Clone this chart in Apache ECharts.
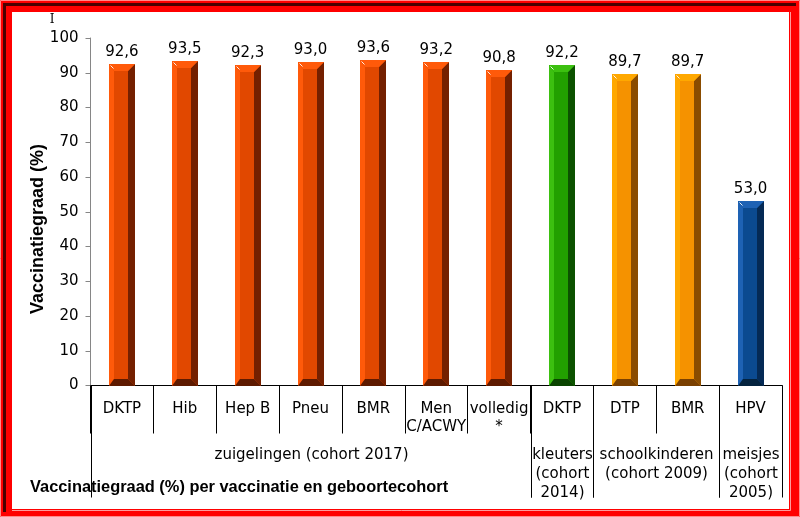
<!DOCTYPE html>
<html>
<head>
<meta charset="utf-8">
<script src="https://cdn.jsdelivr.net/npm/echarts@6/dist/echarts.min.js"></script>
<style>html,body{margin:0;padding:0;background:#fff}#c{width:800px;height:517px}</style>
</head>
<body>
<div id="c"></div>
<script>
// ---- data ----
const categories = ['DKTP', 'Hib', 'Hep B', 'Pneu', 'BMR', 'Men\nC/ACWY', 'volledig\n*', 'DKTP', 'DTP', 'BMR', 'HPV'];
const values = [92.6, 93.5, 92.3, 93.0, 93.6, 93.2, 90.8, 92.2, 89.7, 89.7, 53.0];
const barColorGroup = [0, 0, 0, 0, 0, 0, 0, 1, 2, 2, 3];
const groupLabels = ['zuigelingen (cohort 2017)', 'kleuters\n(cohort\n2014)', 'schoolkinderen\n(cohort 2009)', 'meisjes\n(cohort\n2005)'];
const groupSpans = [7, 1, 2, 1];
const yMin = 0, yMax = 100, yStep = 10;
const yTitle = 'Vaccinatiegraad (%)';
const footTitle = 'Vaccinatiegraad (%) per vaccinatie en geboortecohort';

// ---- styles ----
const palettes = [
  { light: '#ff5a0a', mid: '#e14800', dark: '#742000', bottom: '#5e1a00' },
  { light: '#3cc010', mid: '#22a000', dark: '#0c5200', bottom: '#0a4400' },
  { light: '#ffa800', mid: '#f59200', dark: '#8a4c00', bottom: '#7a4000' },
  { light: '#1e62b4', mid: '#0b4a90', dark: '#052a55', bottom: '#04233f' }
];
const FONT = 'DejaVu Sans';

const groupData = [];
let start = 0;
groupSpans.forEach((s, i) => { groupData.push([start, start + s - 1]); start += s; });

const chart = echarts.init(document.getElementById('c'), null, { renderer: 'canvas' });

function fmt(v) { return v.toFixed(1).replace('.', ','); }

const option = {
  animation: false,
  backgroundColor: 'transparent',
  graphic: [
    { type: 'rect', z: -10, shape: { x: 0, y: 0, width: 800, height: 517 }, style: { fill: '#ff0000' } },
    { type: 'rect', z: -9, shape: { x: 0.5, y: 0.5, width: 799, height: 516 }, style: { fill: null, stroke: '#ff8a8a', lineWidth: 1 } },
    { type: 'polyline', z: -9, shape: { points: [[4.5, 512], [4.5, 4.5], [796, 4.5]] }, style: { fill: null, stroke: '#4a0000', lineWidth: 3 } },
    { type: 'polyline', z: -9, shape: { points: [[12, 510.5], [790.5, 510.5], [790.5, 12]] }, style: { fill: null, stroke: '#ff9a9a', lineWidth: 1 } },
    { type: 'rect', z: -8, shape: { x: 12, y: 12, width: 777, height: 497 }, style: { fill: '#ffffff' } },
    { type: 'text', z: 10, x: 52, y: 20,
      style: { text: 'I', font: '12px "DejaVu Serif", serif', fill: '#000', align: 'center', verticalAlign: 'middle' } },
    { type: 'text', z: 10, x: 38, y: 229, rotation: Math.PI / 2,
      style: { text: yTitle, font: 'bold 18px "Liberation Sans", Arial, sans-serif', fill: '#000', align: 'center', verticalAlign: 'middle' } },
    { type: 'text', z: 10, x: 30, y: 487,
      style: { text: footTitle, font: 'bold 16.4px "Liberation Sans", Arial, sans-serif', fill: '#000', align: 'left', verticalAlign: 'middle' } }
  ],
  grid: { left: 90.5, right: 18, top: 38, bottom: 131.5, containLabel: false },
  xAxis: {
    type: 'category',
    data: categories,
    boundaryGap: true,
    axisLine: { show: true, lineStyle: { color: '#000', width: 1 } },
    axisTick: { show: true, length: 48, alignWithLabel: false, interval: 0, lineStyle: { color: '#000', width: 1 } },
    axisLabel: { interval: 0, margin: 15, color: '#000', fontFamily: FONT, fontSize: 15, lineHeight: 18, verticalAlign: 'top' },
    splitLine: { show: false }
  },
  yAxis: {
    type: 'value',
    min: yMin, max: yMax, interval: yStep,
    axisLine: { show: true, lineStyle: { color: '#868686', width: 1 } },
    axisTick: { show: true, length: 5, lineStyle: { color: '#868686' } },
    axisLabel: { margin: 12, color: '#000', fontFamily: FONT, fontSize: 15 },
    splitLine: { show: false }
  },
  series: [
    {
      type: 'custom',
      clip: false,
      data: values.map((v, i) => [i, v]),
      encode: { x: 0, y: 1 },
      renderItem: function (params, api) {
        const idx = api.value(0);
        const v = api.value(1);
        const top = api.coord([idx, v]);
        const base = api.coord([idx, 0]);
        const bw = api.size([1, 0])[0];
        const W = Math.round(bw * 0.41);
        const L = Math.round(top[0] - W / 2);
        const R = L + W;
        const T = Math.round(top[1]);
        const B = Math.round(base[1]);
        const p = palettes[barColorGroup[params.dataIndex]];
        const bl = 5, br = 7, bt = 7, bb = 7;
        return {
          type: 'group',
          children: [
            { type: 'rect', shape: { x: L, y: T, width: W, height: B - T }, style: { fill: p.mid } },
            { type: 'polygon', shape: { points: [[L, T], [L + bl, T + bt], [L + bl, B - bb], [L, B]] }, style: { fill: p.light } },
            { type: 'polygon', shape: { points: [[R, T], [R - br, T + bt], [R - br, B - bb], [R, B]] }, style: { fill: p.dark } },
            { type: 'polygon', shape: { points: [[L, T], [R, T], [R - br, T + bt], [L + bl, T + bt]] }, style: { fill: p.light } },
            { type: 'polygon', shape: { points: [[L, B], [R, B], [R - br, B - bb], [L + bl, B - bb]] }, style: { fill: p.bottom } },
            { type: 'line', shape: { x1: L + 1.5, y1: T + 1.5, x2: L + 4.5, y2: T + 4.5 }, style: { stroke: '#ffffff', lineWidth: 1, opacity: 0.9 } },
            { type: 'text', style: { text: fmt(v), x: top[0], y: T - 4, align: 'center', verticalAlign: 'bottom', font: '15px "DejaVu Sans"', fill: '#000' } }
          ]
        };
      },
      z: 3
    },
    {
      type: 'custom',
      clip: false,
      silent: true,
      data: groupData,
      encode: { x: [0, 1] },
      renderItem: function (params, api) {
        const s = api.value(0), e = api.value(1);
        const bw = api.size([1, 0])[0];
        const a = api.coord([s, 0]);
        const b = api.coord([e, 0]);
        const x0 = Math.round(a[0] - bw / 2) + 0.5;
        const x1 = Math.round(b[0] + bw / 2) + 0.5;
        const y0 = a[1];
        return {
          type: 'group',
          children: [
            { type: 'line', shape: { x1: x0, y1: y0, x2: x0, y2: y0 + 112 }, style: { stroke: '#000', lineWidth: 1 } },
            { type: 'line', shape: { x1: x1, y1: y0, x2: x1, y2: y0 + 112 }, style: { stroke: '#000', lineWidth: 1 } },
            { type: 'text', style: { text: groupLabels[params.dataIndex], x: (x0 + x1) / 2, y: y0 + 60, align: 'center', verticalAlign: 'top', font: '15px "DejaVu Sans"', lineHeight: 19, fill: '#000' } }
          ]
        };
      },
      z: 2
    }
  ]
};
chart.setOption(option);
</script>
</body>
</html>
